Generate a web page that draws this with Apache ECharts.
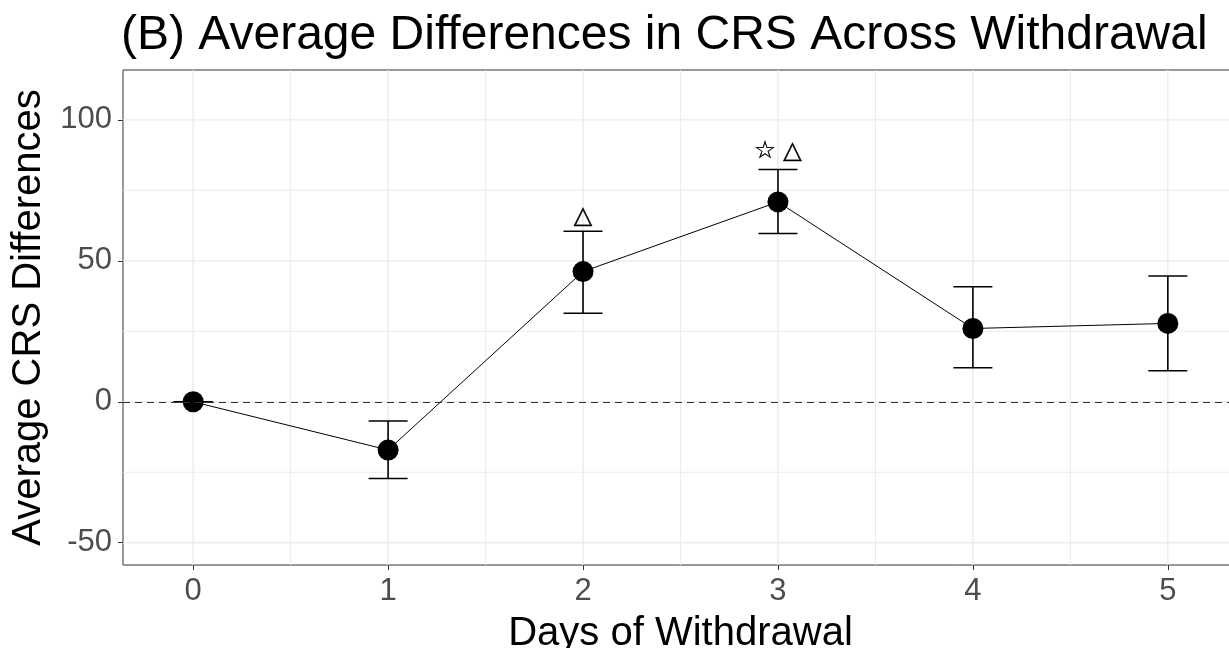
<!DOCTYPE html>
<html>
<head>
<meta charset="utf-8">
<style>
  html, body { margin: 0; padding: 0; background: #fff; }
  #chart { width: 1229px; height: 648px; }
</style>
<script src="https://cdn.jsdelivr.net/npm/echarts@6/dist/echarts.min.js"></script>
</head>
<body>
<div id="chart"></div>
<script>
// Days of withdrawal and the average CRS difference on each day
const days = [0, 1, 2, 3, 4, 5];
const meanDiff = [0, -17.1, 46.2, 70.9, 26.0, 27.8];
const errLow = [0, -27.2, 31.4, 59.7, 12.1, 11.0];
const errHigh = [0, -6.8, 60.5, 82.4, 40.8, 44.6];

// Significance markers placed above the error bars
const markDays = [2, 3];
const markY = [65.6, 88.8];
const markText = ['\u25B3', '\u2606 \u25B3'];

// Tick and grid positions
const xTicks = [0, 1, 2, 3, 4, 5];
const xMinor = [0.5, 1.5, 2.5, 3.5, 4.5];
const yTicks = [-50, 0, 50, 100];
const yMinor = [-25, 25, 75];

const FONT = 'Liberation Sans, Arial, sans-serif';

const gridData = []
  .concat(xTicks.map(v => ['x', v, 1]))
  .concat(xMinor.map(v => ['x', v, 0]))
  .concat(yTicks.map(v => ['y', v, 1]))
  .concat(yMinor.map(v => ['y', v, 0]));

const chart = echarts.init(document.getElementById('chart'), null, { renderer: 'canvas' });

chart.setOption({
  animation: false,
  backgroundColor: '#ffffff',
  title: {
    text: '(B) Average Differences in CRS Across Withdrawal',
    left: 121,
    top: 12,
    padding: 0,
    textStyle: { fontFamily: FONT, fontSize: 48, fontWeight: 'normal', color: '#000' }
  },
  grid: {
    left: 123, top: 70, width: 1115, height: 495,
    outerBoundsMode: 'none',
    containLabel: false,
    show: true, borderColor: '#333333', borderWidth: 1, backgroundColor: 'transparent'
  },
  xAxis: {
    type: 'value', min: -0.36, max: 5.36,
    name: 'Days of Withdrawal', nameLocation: 'middle', nameGap: 49,
    nameTextStyle: { fontFamily: FONT, fontSize: 40, color: '#000' },
    axisLine: { show: false, onZero: false },
    splitLine: { show: false },
    axisTick: { show: true, customValues: xTicks, length: 5, lineStyle: { color: '#333333', width: 1 } },
    axisLabel: { customValues: xTicks, margin: 11, fontFamily: FONT, fontSize: 31, color: '#4D4D4D' }
  },
  yAxis: {
    type: 'value', min: -57.9, max: 117.7,
    name: 'Average CRS Differences', nameLocation: 'middle', nameGap: 66,
    nameTextStyle: { fontFamily: FONT, fontSize: 40, color: '#000' },
    axisLine: { show: false, onZero: false },
    splitLine: { show: false },
    axisTick: { show: true, customValues: yTicks, length: 5, lineStyle: { color: '#333333', width: 1 } },
    axisLabel: { customValues: yTicks, margin: 11, fontFamily: FONT, fontSize: 31, color: '#4D4D4D' }
  },
  series: [
    {
      // panel grid lines (major and minor)
      type: 'custom',
      silent: true,
      z: 0,
      data: gridData,
      renderItem: function (params, api) {
        const cs = params.coordSys;
        const axis = api.value(0);
        const v = api.value(1);
        const major = api.value(2) === 1;
        let shape;
        if (axis === 'x' || axis === 0) {
          const p = api.coord([v, 0]);
          shape = { x1: p[0], y1: cs.y, x2: p[0], y2: cs.y + cs.height };
        } else {
          const p = api.coord([0, v]);
          shape = { x1: cs.x, y1: p[1], x2: cs.x + cs.width, y2: p[1] };
        }
        return {
          type: 'line', shape: shape,
          style: { stroke: '#EBEBEB', lineWidth: major ? 1.4 : 1 }
        };
      },
      encode: { x: 1, y: 1 }
    },
    {
      // error bars
      type: 'custom',
      silent: true,
      z: 3,
      data: days.map((d, i) => [d, errLow[i], errHigh[i]]),
      renderItem: function (params, api) {
        const x = api.value(0);
        const lo = api.value(1);
        const hi = api.value(2);
        const pLo = api.coord([x, lo]);
        const pHi = api.coord([x, hi]);
        const half = api.coord([x + 0.1, hi])[0] - pHi[0];
        const st = { stroke: '#000', lineWidth: 1.6 };
        return {
          type: 'group',
          children: [
            { type: 'line', shape: { x1: pHi[0], y1: pHi[1], x2: pLo[0], y2: pLo[1] }, style: st },
            { type: 'line', shape: { x1: pHi[0] - half, y1: pHi[1], x2: pHi[0] + half, y2: pHi[1] }, style: st },
            { type: 'line', shape: { x1: pLo[0] - half, y1: pLo[1], x2: pLo[0] + half, y2: pLo[1] }, style: st }
          ]
        };
      },
      encode: { x: 0, y: [1, 2] }
    },
    {
      // mean differences
      type: 'line',
      z: 4,
      data: days.map((d, i) => [d, meanDiff[i]]),
      symbol: 'circle',
      symbolSize: 21,
      itemStyle: { color: '#000' },
      lineStyle: { color: '#000', width: 1 },
      markLine: {
        silent: true,
        symbol: 'none',
        label: { show: false },
        lineStyle: { type: [7, 5], color: '#333333', width: 1.2 },
        data: [{ yAxis: 0 }]
      }
    },
    {
      // significance markers
      type: 'custom',
      silent: true,
      z: 5,
      data: markDays.map((d, i) => [d, markY[i], i]),
      renderItem: function (params, api) {
        const p = api.coord([api.value(0), api.value(1)]);
        return {
          type: 'text',
          x: p[0], y: p[1],
          style: {
            text: markText[api.value(2)],
            fontFamily: 'DejaVu Sans', fontSize: 24, fill: '#000',
            stroke: '#000', lineWidth: 0.4,
            align: 'center', verticalAlign: 'middle'
          }
        };
      },
      encode: { x: 0, y: 1 }
    }
  ]
});
</script>
</body>
</html>
